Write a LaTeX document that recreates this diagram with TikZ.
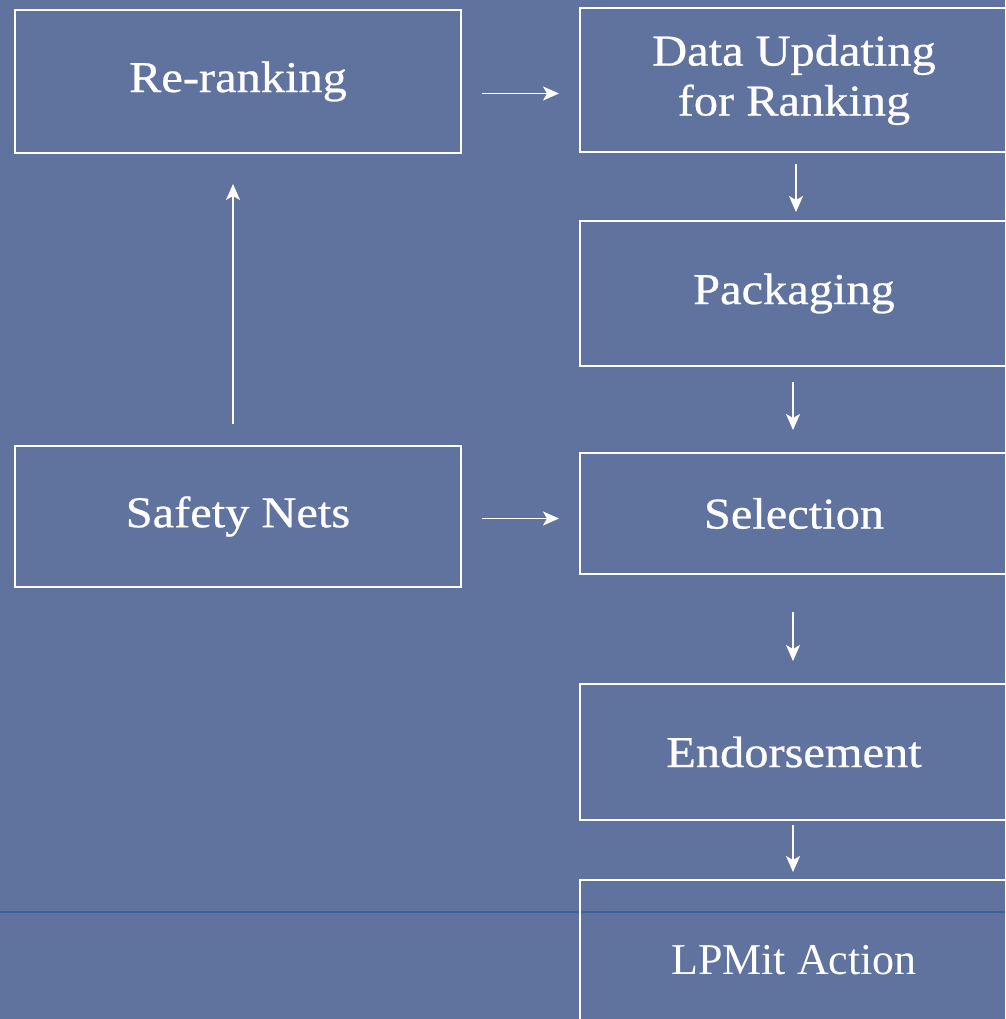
\documentclass[tikz,border=0pt]{standalone}
\usepackage{fontspec}
\setmainfont{Liberation Serif}
\newfontfamily\widefont[FakeStretch=1.1,FakeBold=0.6]{Liberation Serif}
\usetikzlibrary{arrows.meta}
\definecolor{bgblue}{RGB}{96,115,158}
\definecolor{rulecol}{RGB}{58,98,152}
\begin{document}
\begin{tikzpicture}[x=1pt,y=-1pt,
  box/.style={draw=white, line width=2pt, text=white, inner sep=0pt, align=center,
    font=\widefont\fontsize{44}{50}\selectfont},
  plainbox/.style={box, font=\fontsize{44}{50}\selectfont},
  arr/.style={draw=white, line width=1.8pt, -{Stealth[length=16pt,width=14pt,inset=4pt]}}]
\fill[bgblue] (0,0) rectangle (1005,1019);
\useasboundingbox (0,0) rectangle (1005,1019);
\draw[rulecol, line width=1.2pt] (0,912) -- (1005,912);
% left column
\node[box, minimum width=446pt, minimum height=143pt] (rerank) at (238,81.5) {Re-ranking};
\node[box, minimum width=446pt, minimum height=141pt] (safety) at (238,516.5) {Safety Nets};
% right column
\node[box, minimum width=428pt, minimum height=144pt] (data) at (794,80) {Data Updating\\for Ranking};
\node[box, minimum width=428pt, minimum height=145pt] (pack) at (794,293.5) {Packaging};
\node[box, minimum width=428pt, minimum height=121pt] (sel) at (794,513.5) {Selection};
\node[box, minimum width=428pt, minimum height=136pt] (endo) at (794,752) {Endorsement};
\node[plainbox, minimum width=428pt, minimum height=160pt] (lpm) at (794,960) {LPMit Action};
% connectors
\draw[arr, shorten <=20pt, shorten >=20pt] ([yshift=-12pt]rerank.east) -- ([yshift=-12pt]rerank.east -| data.west);
\draw[arr, shorten <=20pt, shorten >=20pt] ([yshift=-2pt]safety.east) -- ([yshift=-2pt]safety.east -| sel.west);
\draw[arr, shorten <=21pt, shorten >=30pt] ([xshift=-5pt]safety.north) -- ([xshift=-5pt]rerank.south);
\draw[arr, shorten <=11pt, shorten >=8pt] ([xshift=2pt]data.south) -- ([xshift=2pt]pack.north);
\draw[arr, shorten <=15pt, shorten >=22pt] ([xshift=-1pt]pack.south) -- ([xshift=-1pt]sel.north);
\draw[arr, shorten <=37pt, shorten >=22pt] ([xshift=-1pt]sel.south) -- ([xshift=-1pt]endo.north);
\draw[arr, shorten <=4pt, shorten >=7pt] ([xshift=-1pt]endo.south) -- ([xshift=-1pt]lpm.north);
\end{tikzpicture}
\end{document}
